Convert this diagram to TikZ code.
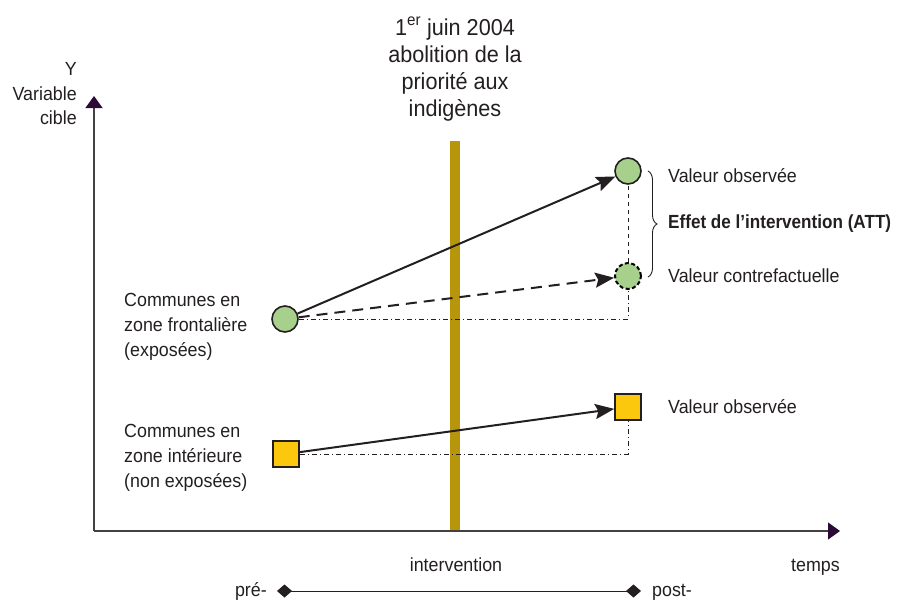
\documentclass[tikz,border=0pt]{standalone}
\usepackage{fontspec}
\setmainfont{Liberation Sans}[FakeStretch=0.94, BoldFeatures={FakeStretch=0.9}]
\usetikzlibrary{arrows.meta,decorations.pathreplacing}
\definecolor{ink}{HTML}{231F20}
\definecolor{axtip}{HTML}{2B0B36}
\definecolor{leaf}{HTML}{A8D08D}
\definecolor{sun}{HTML}{FCC80E}
\definecolor{ochre}{HTML}{B8960C}
\begin{document}
\begin{tikzpicture}[x=1pt,y=-1pt,
  lbl/.style={inner sep=0pt, text=ink, font=\fontsize{19}{25}\selectfont},
  big/.style={inner sep=0pt, text=ink, font=\fontsize{23}{27}\selectfont},
  dot/.style={circle, draw=ink, line width=1.6pt, fill=leaf, minimum size=26pt, inner sep=0pt},
  box/.style={rectangle, draw=ink, line width=1.6pt, fill=sun, minimum size=26pt, inner sep=0pt},
  axis/.style={draw=ink!85, line width=1.2pt, -{Triangle[length=12pt,width=17pt,color=axtip]}},
  trend/.style={draw=ink, line width=2pt, -{Stealth[length=19pt,width=15pt,inset=3pt]}},
  guide/.style={draw=ink, line width=0.9pt, dash pattern=on 5pt off 3pt on 1pt off 3pt},
  span/.style={draw=ink, line width=0.9pt, {Diamond[length=15pt,width=13pt]}-{Diamond[length=15pt,width=13pt]}},
]
\useasboundingbox (0,0) rectangle (905,600);

% intervention date
\fill[ochre] (450,141) rectangle (460,531);

% axes
\coordinate (o) at (94,531);
\coordinate (ytip) at (94,96);
\coordinate (xtip) at (840,531);
\draw[axis] (o) -- (ytip);
\draw[axis] (o) -- (xtip);

% groups before / after
\node[dot] (c1) at (285,319) {};
\node[dot] (c2) at (628,171) {};
\node[dot, draw=black, dash pattern=on 4pt off 2.5pt, line width=2pt] (c3) at (628,276) {};
\node[box] (s1) at (286,454) {};
\node[box] (s2) at (628,407) {};

% reference levels
\draw[guide] (c1.east) -| (c3.south);
\draw[guide, dash pattern=on 4pt off 4pt] (c3.north) -- (c2.south);
\draw[guide] (s1.east) -| (s2.south);

% trajectories
\draw[trend] (c1) -- (c2);
\draw[trend, dash pattern=on 11pt off 7pt] (c1) -- (c3);
\draw[trend] (s1) -- (s2);

% treatment effect
\coordinate (bt) at (648,171);
\coordinate (bb) at (648,277);
\draw[draw=ink, line width=0.9pt, decorate, decoration={brace, amplitude=9pt}] (bt) -- (bb);

% axis labels
\node[lbl, anchor=base east] (yl1) at (77,75) {Y};
\node[lbl, anchor=base east] (yl2) at (77,100) {Variable};
\node[lbl, anchor=base east] (yl3) at (77,124) {cible};
\node[lbl, anchor=base] (tl1) at (456,571) {intervention};
\node[lbl, anchor=base east] (tl2) at (840,571) {temps};

% date label
\node[big, anchor=base] (d1) at (455,35) {1\textsuperscript{er} juin 2004};
\node[big, anchor=base] (d2) at (455,62) {abolition de la};
\node[big, anchor=base] (d3) at (455,89) {priorité aux};
\node[big, anchor=base] (d4) at (455,116) {indigènes};

% group labels
\node[lbl, anchor=base west] (f1) at (124,306) {Communes en};
\node[lbl, anchor=base west] (f2) at (124,331) {zone frontalière};
\node[lbl, anchor=base west] (f3) at (124,356) {(exposées)};
\node[lbl, anchor=base west] (i1) at (124,437) {Communes en};
\node[lbl, anchor=base west] (i2) at (124,462) {zone intérieure};
\node[lbl, anchor=base west] (i3) at (124,487) {(non exposées)};

% value labels
\node[lbl, anchor=base west] (v1) at (668,182) {Valeur observée};
\node[lbl, anchor=base west, font=\fontsize{19}{25}\selectfont\bfseries] (v2) at (668,228) {Effet de l’intervention (ATT)};
\node[lbl, anchor=base west] (v3) at (668,282) {Valeur contrefactuelle};
\node[lbl, anchor=base west] (v4) at (668,413) {Valeur observée};

% periods
\coordinate (pre) at (277,591);
\coordinate (post) at (641,591);
\draw[span] (pre) -- (post);
\node[lbl, anchor=base east] (p1) at (267,596) {pré-};
\node[lbl, anchor=base west] (p2) at (652,596) {post-};
\end{tikzpicture}
\end{document}
